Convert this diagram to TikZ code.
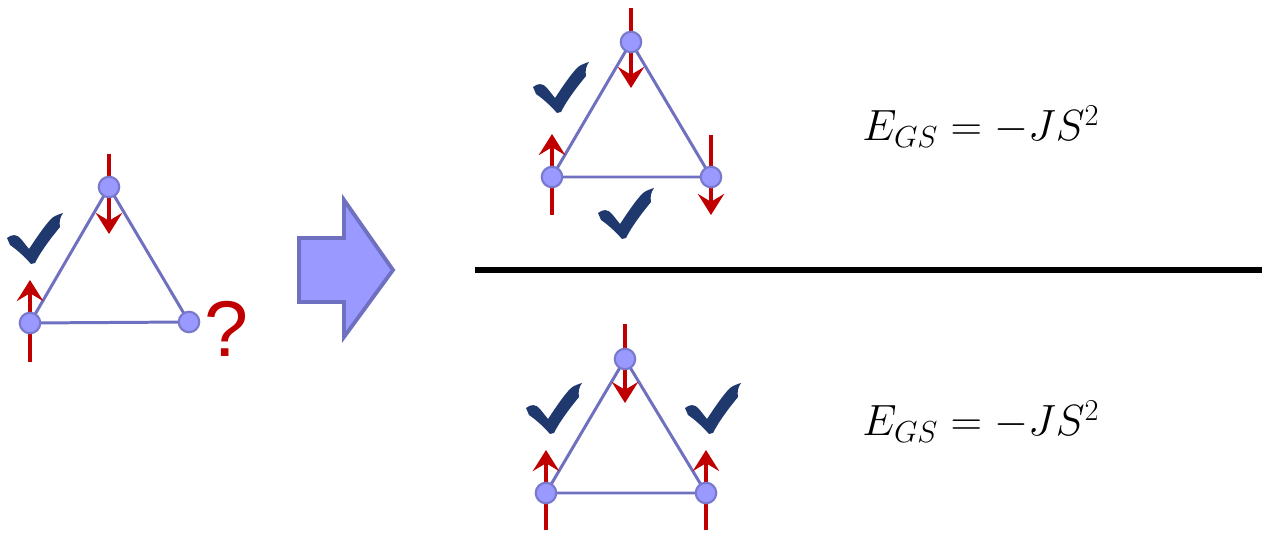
\documentclass[tikz,border=0pt]{standalone}
\usepackage{fontspec}
\newfontfamily\qfont{Liberation Sans}
\usepackage{tikz}
\usetikzlibrary{arrows.meta,backgrounds}

\definecolor{siteblue}{RGB}{153,153,255}
\definecolor{siteedge}{RGB}{120,120,205}
\definecolor{bondcol}{RGB}{112,112,192}
\definecolor{spinred}{RGB}{192,0,0}
\definecolor{checkcol}{RGB}{31,56,110}

\tikzset{
  site/.style={circle, fill=siteblue, draw=siteedge, line width=1.2pt, minimum size=0.41cm, inner sep=0pt},
  bond/.style={draw=bondcol, line width=1.7pt},
  spin/.style={draw=spinred, line width=2.6pt, -{Stealth[length=12pt,width=15pt,inset=4.5pt]}},
  energy/.style={anchor=base west, inner sep=0pt, font=\fontsize{26}{30}\selectfont},
  qmark/.style={anchor=base west, inner sep=0pt, text=spinred, font=\qfont\fontsize{45}{50}\selectfont},
  checkmark/.pic={
    \fill[checkcol] (0,25) .. controls (5,21) and (10,21) .. (14,26) -- (22,36)
      .. controls (30,24) and (38,12) .. (45,5) .. controls (49,2) and (53,1) .. (56,0)
      .. controls (53,4) and (52,9) .. (53,14)
      .. controls (44,25) and (34,38) .. (28,50) -- (24,51)
      .. controls (17,43) and (9,36) .. (3,32) -- cycle;
  }
}

\begin{document}
\begin{tikzpicture}[x=0.02cm,y=-0.02cm]
\useasboundingbox (0,0) rectangle (1262,533);

% left: the frustrated triangle
\node[site] (l1) at (109,187) {};
\node[site] (l2) at (30,323) {};
\node[site] (l3) at (189,322) {};
\begin{scope}[on background layer]
\draw[bond] (l1.center) -- (l2.center) -- (l3.center) -- cycle;
\draw[spin] (l1.center) ++(0,-33) -- ++(0,80);
\draw[spin] (l2.center) ++(0,39) -- ++(0,-82);
\end{scope}
\pic at (7,213) {checkmark};
\node[qmark] (q) at (204,357) {?};

% big arrow
\filldraw[fill=siteblue, draw=bondcol, line width=2.2pt]
  (299,238) -- (344,238) -- (344,200) -- (393,270) -- (344,337) -- (344,302) -- (299,302) -- cycle;

% upper triangle
\node[site] (a1) at (631,42) {};
\node[site] (a2) at (552,177) {};
\node[site] (a3) at (711,177) {};
\begin{scope}[on background layer]
\draw[bond] (a1.center) -- (a2.center) -- (a3.center) -- cycle;
\draw[spin] (a1.center) ++(0,-34) -- ++(0,80);
\draw[spin] (a2.center) ++(0,38) -- ++(0,-81);
\draw[spin] (a3.center) ++(0,-42) -- ++(0,80);
\end{scope}
\pic at (533,62) {checkmark};
\pic at (598,188) {checkmark};
\node[energy] (e1) at (862,141) {$E_{GS}=-JS^2$};

% separator
\draw[line width=3.4pt] (475,270) -- (1262,270);

% lower triangle
\node[site] (b1) at (625,359) {};
\node[site] (b2) at (546,493) {};
\node[site] (b3) at (706,493) {};
\begin{scope}[on background layer]
\draw[bond] (b1.center) -- (b2.center) -- (b3.center) -- cycle;
\draw[spin] (b1.center) ++(0,-35) -- ++(0,79);
\draw[spin] (b2.center) ++(0,37) -- ++(0,-80);
\draw[spin] (b3.center) ++(0,37) -- ++(0,-80);
\end{scope}
\pic at (526,383) {checkmark};
\pic at (685,383) {checkmark};
\node[energy] (e2) at (862,436) {$E_{GS}=-JS^2$};
\end{tikzpicture}
\end{document}
